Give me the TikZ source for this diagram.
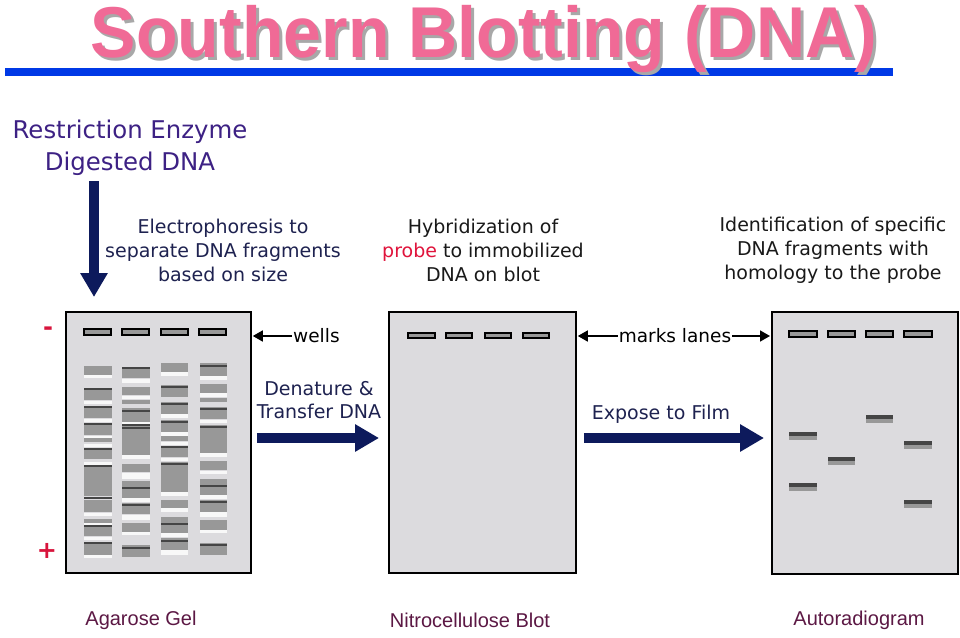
\documentclass[tikz,border=0pt]{standalone}
\usepackage{fontspec}
\setmainfont{DejaVu Sans}
\newfontfamily\titlefont{Liberation Sans}
\newfontfamily\narrowfont{Liberation Sans}
\usetikzlibrary{arrows.meta}
\definecolor{titlepink}{HTML}{F06A96}
\definecolor{titleshadow}{HTML}{A8A8A8}
\definecolor{barblue}{HTML}{0039E6}
\definecolor{navy}{HTML}{0D1A5C}
\definecolor{purpletxt}{HTML}{3D2184}
\definecolor{navytxt}{HTML}{1E2250}
\definecolor{probered}{HTML}{E0143C}
\definecolor{signred}{HTML}{D8143C}
\definecolor{gelgray}{HTML}{DCDBDE}
\definecolor{bandgray}{HTML}{989898}
\definecolor{banddark}{HTML}{454545}
\definecolor{bandwhite}{HTML}{F8F8F8}
\definecolor{maroon}{HTML}{5C1844}
\begin{document}
\begin{tikzpicture}[x=1pt,y=-1pt,
  panel/.style={draw=black, line width=1.8pt, fill=gelgray, inner sep=0pt, anchor=north west},
  wellbox/.style={draw=black, line width=1.8pt, fill=bandgray},
  thinwell/.style={draw=black, line width=1.1pt, fill=bandgray},
  midtext/.style={font=\fontsize{19}{24}\selectfont, align=center, inner sep=0pt},
  labeltext/.style={font=\fontsize{18.5}{22}\selectfont, text=black, inner sep=1pt},
  bottomtext/.style={font=\narrowfont\fontsize{20}{24}\selectfont, text=maroon, inner sep=0pt},
  bigarrow/.style={draw=navy, line width=9.5pt, -{Triangle[width=26pt,length=24pt]}},
  smallarrow/.style={draw=black, line width=1.6pt, -{Triangle[width=11pt,length=10pt]}},
  signtext/.style={font=\bfseries\fontsize{24}{26}\selectfont, text=signred, inner sep=0pt}
]
\useasboundingbox (0,0) rectangle (960,637);
\fill[white] (0,0) rectangle (960,637);

% title
\fill[barblue] (5,68) rectangle (893,76);
\node[anchor=base, text=titleshadow, font=\titlefont\bfseries\fontsize{72}{80}\selectfont, inner sep=0pt] (titleshadow) at (487,60) {\scalebox{0.945}[1]{Southern Blotting (DNA)}};
\node[anchor=base, text=titlepink, font=\titlefont\bfseries\fontsize{72}{80}\selectfont, inner sep=0pt] (title) at (484,57) {\scalebox{0.945}[1]{Southern Blotting (DNA)}};

% top-left text
\node[font=\fontsize{24.4}{32}\selectfont, text=purpletxt, align=center, inner sep=0pt] (enz) at (130,148) {Restriction Enzyme\\Digested DNA};

% step descriptions
\node[midtext, text=navytxt] (elec) at (223,250) {Electrophoresis to\\separate DNA fragments\\based on size};
\node[midtext, text=black!90] (hyb) at (483,250) {Hybridization of\\\textcolor{probered}{probe} to immobilized\\DNA on blot};
\node[midtext, text=black!90] (ident) at (833,250) {Identification of specific\\DNA fragments with\\homology to the probe};

% panels
\node[panel, minimum width=185pt, minimum height=261pt] (gel) at (65,311) {};
\node[panel, minimum width=187pt, minimum height=261pt] (blot) at (388,311) {};
\node[panel, minimum width=186pt, minimum height=262pt] (auto) at (771,311) {};

% signs
\node[signtext] (minus) at (48,331) {-};
\node[signtext] (plus) at (47,551) {+};

% gel bands
\foreach \xa/\xb/\grays/\whites/\darks in {
  84/112/{366/375,388/400,406/418,423/435,438/442,448/459,466/496,500/512,519/523,525/536,542/555}/{375/378,401/404,419/422,436/438,444/447,462/465,497/499,513/516,523/525,537/540,555/558}/{389,407,424,449,466,498,526,543},
  122/150/{367/378,387/395,400/404,408/422,425/455,464/472,481/498,503/514,523/532,545/557}/{379/383,396/399,422/424,455/459,473/479,498/502,515/520,532/535}/{368,411,425,428,488,505,548},
  161/188/{363/372,385/397,402/414,420/432,436/441,446/457,462/492,500/508,517/533,538/550}/{372/376,414/418,432/436,442/445,458/461,492/496,508/512,533/537,550/555}/{387,404,422,447,464,524,541},
  200/227/{363/376,384/393,398/402,407/419,425/453,461/470,479/495,500/512,520/530,543/555}/{376/380,393/397,420/423,453/457,471/474,495/499,512/517,530/533}/{366,409,427,486,502,545}}
{
  \foreach \ya/\yb in \grays {\fill[bandgray] (\xa,\ya) rectangle (\xb,\yb);}
  \foreach \ya/\yb in \whites {\fill[bandwhite] (\xa,\ya) rectangle (\xb,\yb);}
  \foreach \yd in \darks {\fill[banddark] (\xa,\yd-1) rectangle (\xb,\yd+1);}
}

% gel wells
\foreach \xa/\xb in {84/111,122/149,161/188,199/226}
  {\draw[wellbox] (\xa,329) rectangle (\xb,335);}

% blot wells
\foreach \xa/\xb in {408/435,446/472,485/511,523/549}
  {\draw[thinwell] (\xa,333) rectangle (\xb,338);}

% autoradiogram wells
\foreach \xa/\xb in {789/817,828/855,866/893,904/932}
  {\draw[wellbox] (\xa,331) rectangle (\xb,337);}

% autoradiogram bands
\foreach \xa/\xb/\yt in {789/817/432,789/817/483,828/855/457,866/893/415,904/932/441,904/932/500}
  {\fill[banddark] (\xa,\yt) rectangle (\xb,\yt+3.5);
   \fill[bandgray] (\xa,\yt+3.5) rectangle (\xb,\yt+8);}

% labels with small arrows
\node[labeltext, anchor=west] (wellslbl) at (292,336) {wells};
\draw[smallarrow, shorten >=1pt] (wellslbl.west) -- (gel.east |- wellslbl.west);
\node[labeltext] (markslbl) at (675,336) {marks lanes};
\draw[smallarrow, shorten >=1pt] (markslbl.west) -- (blot.east |- markslbl.west);
\draw[smallarrow, shorten >=1pt] (markslbl.east) -- (auto.west |- markslbl.east);

% process arrows
\node[midtext, font=\fontsize{19}{23}\selectfont, text=navytxt] (denat) at (319,400) {Denature \&\\Transfer DNA};
\node[midtext, text=navytxt] (expose) at (661,414) {Expose to Film};
\coordinate (arrowrow) at (0,438);
\draw[bigarrow, shorten <=5pt, shorten >=9pt] (gel.east |- arrowrow) -- (blot.west |- arrowrow);
\draw[bigarrow, shorten <=7pt, shorten >=7pt] (blot.east |- arrowrow) -- (auto.west |- arrowrow);
\coordinate (downstart) at (94,181);
\draw[bigarrow, shorten >=14pt] (downstart) -- (downstart |- gel.north);

% bottom labels
\node[bottomtext] (gellbl) at (141,620) {Agarose Gel};
\node[bottomtext] (blotlbl) at (470,620) {Nitrocellulose Blot};
\node[bottomtext] (autolbl) at (859,620) {Autoradiogram};
\end{tikzpicture}
\end{document}
